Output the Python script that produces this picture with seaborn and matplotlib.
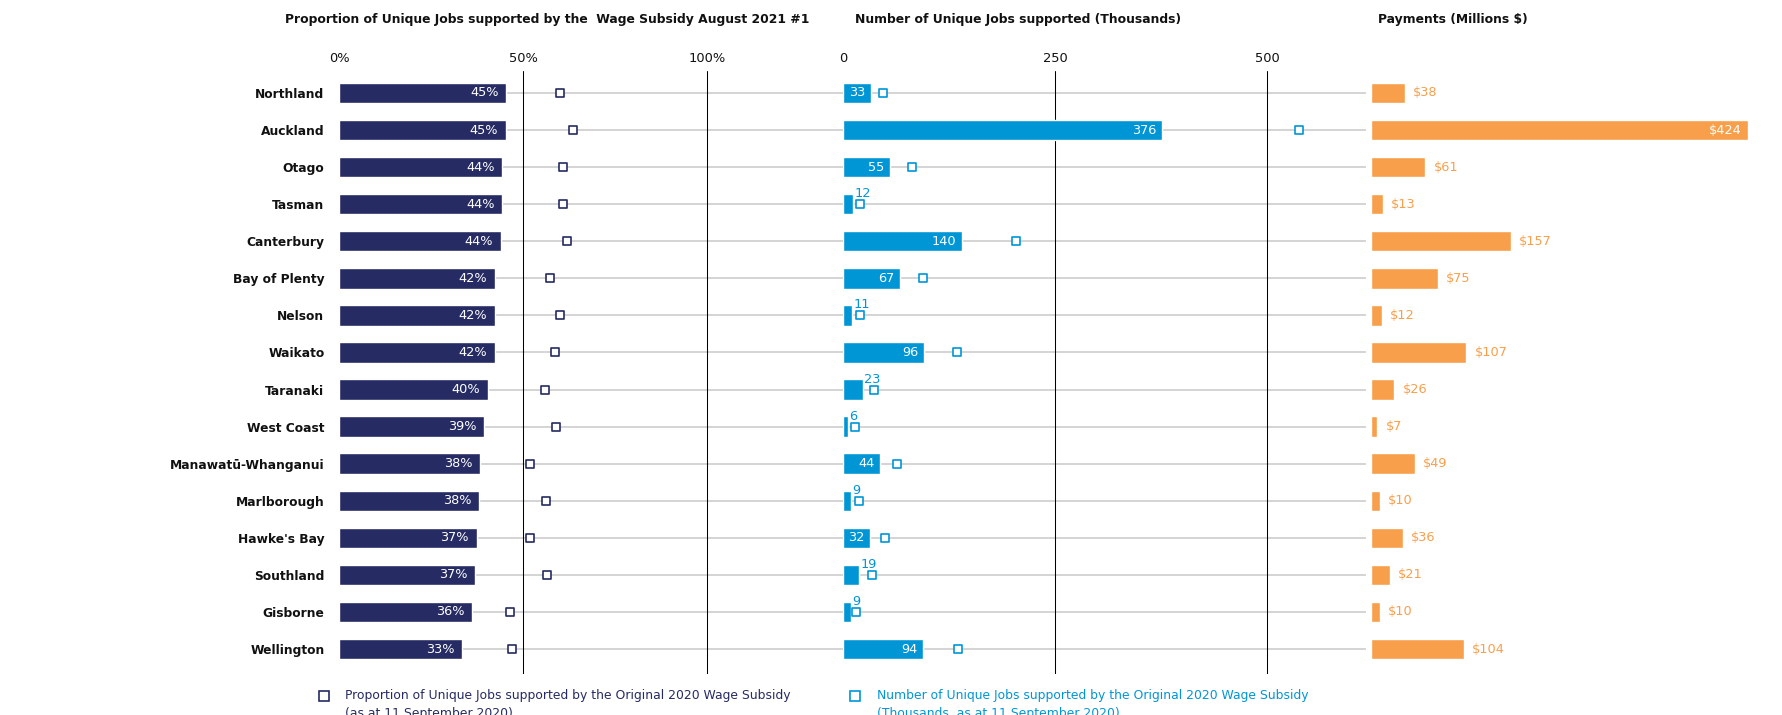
import numpy as np
import pandas as pd
import matplotlib
matplotlib.use("Agg")
import matplotlib.pyplot as plt
from matplotlib.lines import Line2D
import seaborn as sns

# ---- data -------------------------------------------------------------
regions = ["Northland", "Auckland", "Otago", "Tasman", "Canterbury",
           "Bay of Plenty", "Nelson", "Waikato", "Taranaki", "West Coast",
           "Manawatū-Whanganui", "Marlborough", "Hawke's Bay", "Southland",
           "Gisborne", "Wellington"]
# share of unique jobs supported, Wage Subsidy August 2021 #1 (%)
prop_2021 = [45.4, 45.3, 44.4, 44.4, 44.0, 42.4, 42.4, 42.3, 40.4, 39.4,
             38.3, 38.0, 37.4, 36.9, 36.1, 33.4]
# share of unique jobs supported, Original 2020 Wage Subsidy (%)
prop_2020 = [60.1, 63.7, 61.0, 60.8, 62.0, 57.4, 60.1, 58.6, 55.9, 58.9,
             51.9, 56.2, 52.0, 56.5, 46.6, 47.0]
# unique jobs supported (thousands)
jobs_2021 = [33, 376, 55, 12, 140, 67, 11, 96, 23, 6, 44, 9, 32, 19, 9, 94]
jobs_2020 = [47, 538, 81, 20, 204, 94, 20, 135, 36, 14, 64, 19, 49, 34, 15, 136]
# payments (millions $)
payments = [38, 424, 61, 13, 157, 75, 12, 107, 26, 7, 49, 10, 36, 21, 10, 104]

prop_ticks = [0, 50, 100]
prop_tick_labels = ["0%", "50%", "100%"]
jobs_ticks = [0, 250, 500]
jobs_tick_labels = ["0", "250", "500"]

titles = ["Proportion of Unique Jobs supported by the  Wage Subsidy August 2021 #1",
          "Number of Unique Jobs supported (Thousands)",
          "Payments (Millions $)"]
legend_labels = ["Proportion of Unique Jobs supported by the Original 2020 Wage Subsidy\n(as at 11 September 2020)",
                 "Number of Unique Jobs supported by the Original 2020 Wage Subsidy\n(Thousands, as at 11 September 2020)"]

df = pd.DataFrame({"region": regions, "prop_2021": prop_2021,
                   "prop_2020": prop_2020, "jobs_2021": jobs_2021,
                   "jobs_2020": jobs_2020, "payments": payments})

# ---- style ------------------------------------------------------------
NAVY = "#262B63"
BLUE = "#0096D6"
ORANGE = "#F89F4B"
GRID = "#D4D4D4"
VLINE = "#000000"

sns.set_theme(style="white")
plt.rcParams["font.family"] = ["DejaVu Sans"]

W, H = 1782, 715
fig = plt.figure(figsize=(W / 100, H / 100), dpi=100)

AX_TOP, AX_BOT = 71, 674
YLIM = (15.674, -0.593)
BAR_W = 0.55
FS = 9.3


def make_axes(x0, x1):
    return fig.add_axes([x0 / W, 1 - AX_BOT / H, (x1 - x0) / W, (AX_BOT - AX_TOP) / H])


ax1 = make_axes(339, 843)
ax2 = make_axes(843, 1366)
ax3 = make_axes(1371, W)

rows = np.arange(len(regions))

# ---- panel 1: proportion ---------------------------------------------
x1max = 504 / 3.68
ax1.hlines(rows, 0, x1max, color=GRID, lw=1.4, zorder=0.5)
for t in prop_ticks[1:]:
    ax1.axvline(t, color=VLINE, lw=0.75, zorder=1)
sns.barplot(data=df, x="prop_2021", y="region", orient="h", color=NAVY,
            saturation=1, width=BAR_W, errorbar=None, ax=ax1, zorder=2)
sns.stripplot(data=df, x="prop_2020", y="region", orient="h", jitter=False,
              marker="s", size=5.3, color="white", edgecolor=NAVY,
              linewidth=1.2, ax=ax1, zorder=3)
for i, v in enumerate(prop_2021):
    ax1.annotate(f"{round(v)}%", (v, i), xytext=(-5.5, 0), textcoords="offset points",
                 ha="right", va="center", color="white", fontsize=FS, zorder=4)
ax1.set_xlim(0, x1max)

# ---- panel 2: jobs ----------------------------------------------------
x2max = 523 / 0.848
ax2.hlines(rows, 0, x2max, color=GRID, lw=1.4, zorder=0.5)
for t in jobs_ticks[1:]:
    ax2.axvline(t, color=VLINE, lw=0.75, zorder=1)
sns.barplot(data=df, x="jobs_2021", y="region", orient="h", color=BLUE,
            saturation=1, width=BAR_W, errorbar=None, ax=ax2, zorder=2)
sns.stripplot(data=df, x="jobs_2020", y="region", orient="h", jitter=False,
              marker="s", size=5.3, color="white", edgecolor=BLUE,
              linewidth=1.2, ax=ax2, zorder=3)
for i, v in enumerate(jobs_2021):
    if v >= 30:
        ax2.annotate(f"{v}", (v, i), xytext=(-4, 0), textcoords="offset points",
                     ha="right", va="center", color="white", fontsize=FS, zorder=4)
    else:
        ax2.annotate(f"{v}", (v, i), xytext=(1.0, 7.5), textcoords="offset points",
                     ha="left", va="center", color=BLUE, fontsize=FS, zorder=4)
ax2.set_xlim(0, x2max)

# ---- panel 3: payments ------------------------------------------------
x3max = (W - 1371) / 0.89
sns.barplot(data=df, x="payments", y="region", orient="h", color=ORANGE,
            saturation=1, width=BAR_W, errorbar=None, ax=ax3, zorder=2)
top_pay = max(payments)
for i, v in enumerate(payments):
    if v == top_pay:
        ax3.annotate(f"${v}", (v, i), xytext=(-5, 0), textcoords="offset points",
                     ha="right", va="center", color="white", fontsize=FS, zorder=4)
    else:
        ax3.annotate(f"${v}", (v, i), xytext=(6, 0), textcoords="offset points",
                     ha="left", va="center", color=ORANGE, fontsize=FS, zorder=4)
ax3.set_xlim(0, x3max)

# ---- axes cosmetics ---------------------------------------------------
for ax in (ax1, ax2, ax3):
    ax.set_ylim(*YLIM)
    ax.set_xlabel("")
    ax.set_ylabel("")
    for s in ax.spines.values():
        s.set_visible(False)
    ax.set_facecolor("none")
    ax.xaxis.tick_top()
    ax.tick_params(axis="x", length=0, pad=4.0, labelsize=9.4, colors="#111111")
    ax.tick_params(axis="y", length=0)

ax1.set_xticks(prop_ticks, prop_tick_labels)
ax2.set_xticks(jobs_ticks, jobs_tick_labels)
ax3.set_xticks([])
ax1.set_yticks(rows, regions)
ax1.tick_params(axis="y", pad=10.5, labelsize=8.8)
for lab in ax1.get_yticklabels():
    lab.set_fontweight("bold")
    lab.set_color("#111111")
ax2.set_yticks([])
ax3.set_yticks([])

# ---- titles -----------------------------------------------------------
for xc, t in zip([547, 1018, 1453], titles):
    fig.text(xc / W, 1 - 20 / H, t, ha="center", va="center",
             fontweight="bold", fontsize=8.9, color="#111111")

# ---- legend -----------------------------------------------------------
for (mx, tx, col), lab in zip([(324, 345, NAVY), (855, 877, BLUE)], legend_labels):
    fig.add_artist(Line2D([mx / W], [1 - 696 / H], marker="s", markersize=6.5,
                          mfc="white", mec=col, mew=1.2, transform=fig.transFigure))
    fig.text(tx / W, 1 - 689 / H, lab, ha="left", va="top", color=col,
             fontsize=8.9, linespacing=1.45)

fig.savefig("out.png", dpi=100)
